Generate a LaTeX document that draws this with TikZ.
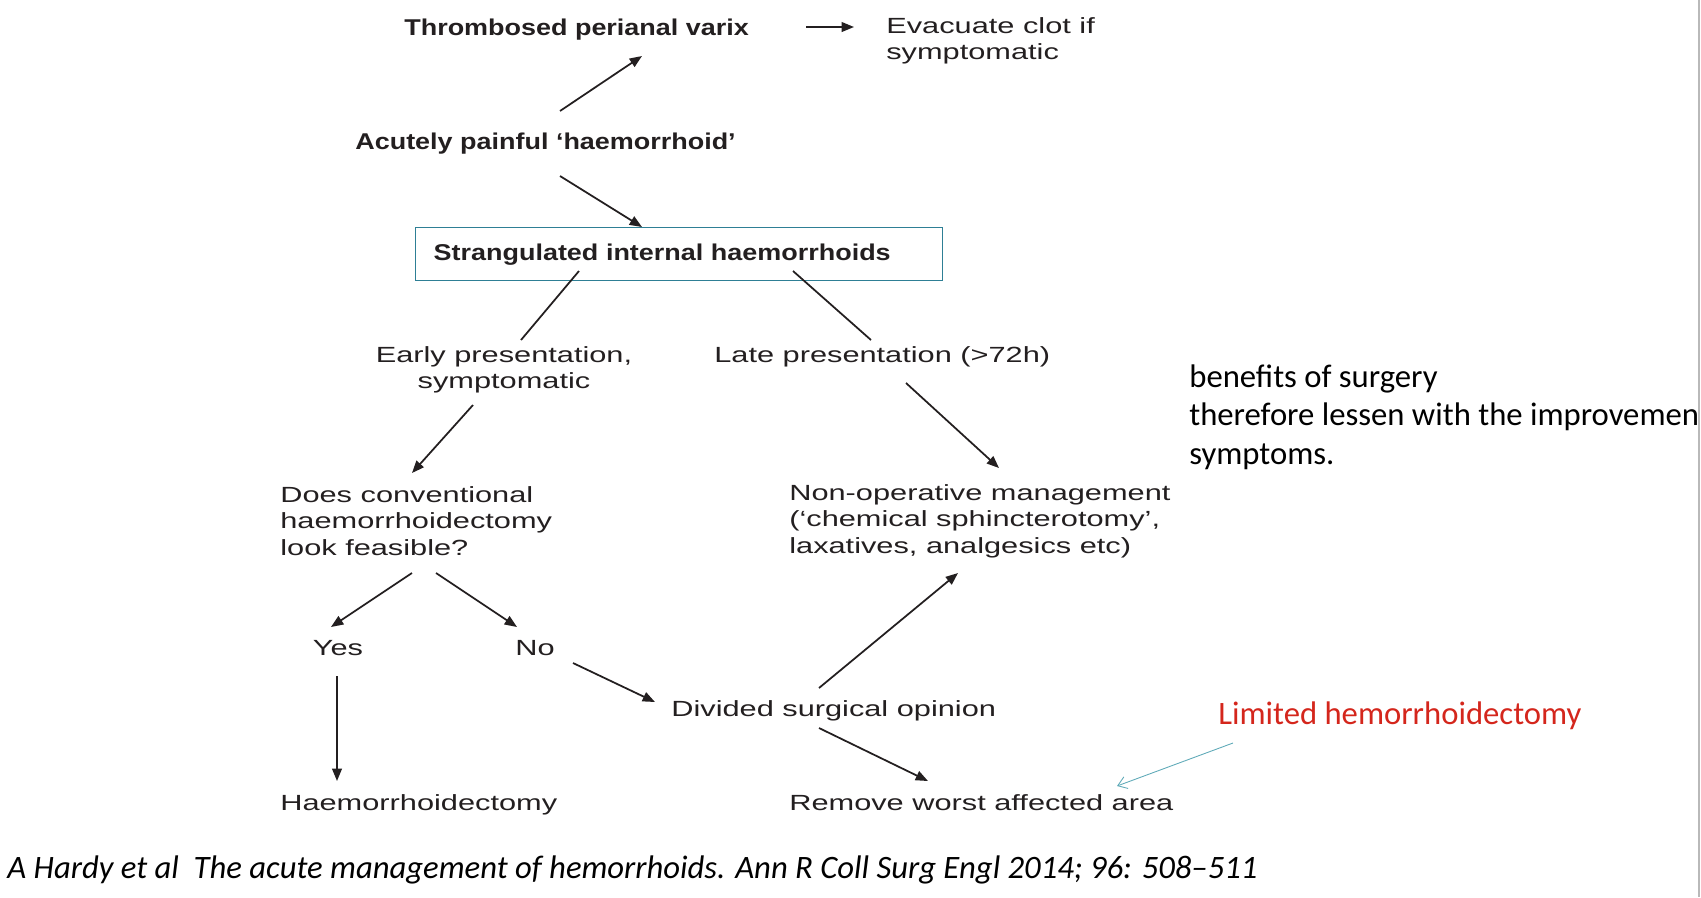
\documentclass[tikz,border=0pt]{standalone}
\usepackage{fontspec}
\setmainfont{Liberation Sans}
\usetikzlibrary{arrows.meta, positioning, calc}
\newfontfamily\chartfont{Liberation Sans}[FakeStretch=1.4]
\newfontfamily\chartbold{Liberation Sans}[FakeStretch=1.18]
\newfontfamily\notefont{Carlito}
\definecolor{inktext}{HTML}{231F20}
\definecolor{boxteal}{HTML}{2E7F95}
\definecolor{pointerblue}{HTML}{5FAAB8}
\definecolor{notered}{HTML}{D4261C}
\tikzset{
  step text/.style={font=\chartfont\fontsize{12.5}{15}\selectfont, text=inktext, inner sep=0pt, align=left},
  head text/.style={font=\chartbold\bfseries\fontsize{13}{15}\selectfont, text=inktext, inner sep=0pt},
  note text/.style={font=\notefont\fontsize{18.6}{22}\selectfont, text=black, inner sep=0pt, align=left},
  arr/.style={draw=inktext, line width=1pt, -{Triangle[length=7pt,width=5.5pt]}},
  link/.style={draw=inktext, line width=1pt}
}
\begin{document}
\begin{tikzpicture}[x=0.02cm, y=-0.02cm]
        % Fix the frame to the slide
        \useasboundingbox (0,0) rectangle (1701,897);
        \draw[gray!55, line width=0.6pt] (1699,0) -- (1699,897);
        % Top of the chart
        \node[head text, anchor=west] (thromb) at (404,30) {Thrombosed perianal varix};
        \node[step text, anchor=west] (evac) at (886,41) {Evacuate clot if\\symptomatic};
        \node[head text, anchor=west] (acute) at (355,144) {Acutely painful ‘haemorrhoid’};
        \node[head text, draw=boxteal, line width=0.8pt, anchor=north west,
              minimum width=10.54cm, minimum height=1.06cm, text width=9.82cm,
              inner xsep=0.36cm, align=left] (strang) at (415,227) {Strangulated internal haemorrhoids};
        % Presentation
        \node[step text, align=center] (early) at (504,370) {Early presentation,\\symptomatic};
        \node[step text, anchor=west] (late) at (714,357) {Late presentation (>72h)};
        \node[step text, anchor=west] (does) at (280,521) {Does conventional\\haemorrhoidectomy\\look feasible?};
        \node[step text, anchor=west] (nonop) at (789,521) {Non-operative management\\(‘chemical sphincterotomy’,\\laxatives, analgesics etc)};
        % Decision
        \node[step text] (yes) at (338,648) {Yes};
        \node[step text] (no) at (535,648) {No};
        \node[step text, anchor=west] (divided) at (671,711) {Divided surgical opinion};
        \node[step text, anchor=west] (haem) at (280,805) {Haemorrhoidectomy};
        \node[step text, anchor=west] (remove) at (789,803) {Remove worst affected area};
        % Slide notes
        \node[note text, anchor=west] (benefits) at (1189,417) {benefits of surgery\\therefore lessen with the improvemen\\symptoms.};
        \node[note text, anchor=west, text=notered] (limited) at (1218,716) {Limited hemorrhoidectomy};
        \node[note text, anchor=west, font=\notefont\itshape\fontsize{18.6}{22}\selectfont] (cite) at (7,870)
              {A Hardy et al~ The acute management of hemorrhoids. Ann R Coll Surg Engl 2014; 96: 508–511};
        % Connectors
        \draw[arr] ($(thromb.west)+(402,-3)$) -- ($(evac.west)+(-32,-14)$);
        \draw[arr] ($(acute.west)+(205,-33)$) -- ($(thromb.west)+(238,26)$);
        \draw[arr] ($(acute.west)+(205,32)$) -- ($(strang.north west)+(227,0)$);
        \draw[link] ($(strang.north west)+(164,44)$) -- ($(early.center)+(17,-30)$);
        \draw[link] ($(strang.north west)+(378,44)$) -- ($(late.west)+(157,-17)$);
        \draw[arr] ($(early.center)+(-31,35)$) -- ($(does.west)+(132,-48)$);
        \draw[arr] ($(late.west)+(192,26)$) -- ($(nonop.west)+(210,-53)$);
        \draw[arr] ($(does.west)+(132,52)$) -- ($(yes.center)+(-7,-21)$);
        \draw[arr] ($(does.west)+(156,52)$) -- ($(no.center)+(-18,-21)$);
        \draw[arr] ($(yes.center)+(-1,28)$) -- ($(haem.west)+(57,-24)$);
        \draw[arr] ($(no.center)+(38,15)$) -- ($(divided.west)+(-16,-9)$);
        \draw[arr] ($(divided.west)+(148,-23)$) -- ($(nonop.west)+(169,52)$);
        \draw[arr] ($(divided.west)+(148,17)$) -- ($(remove.west)+(139,-22)$);
        \draw[pointerblue, line width=0.5pt, -{Straight Barb[length=5pt,width=7pt]}]
              ($(limited.west)+(15,27)$) -- ($(remove.west)+(328,-17)$);
\end{tikzpicture}
\end{document}
